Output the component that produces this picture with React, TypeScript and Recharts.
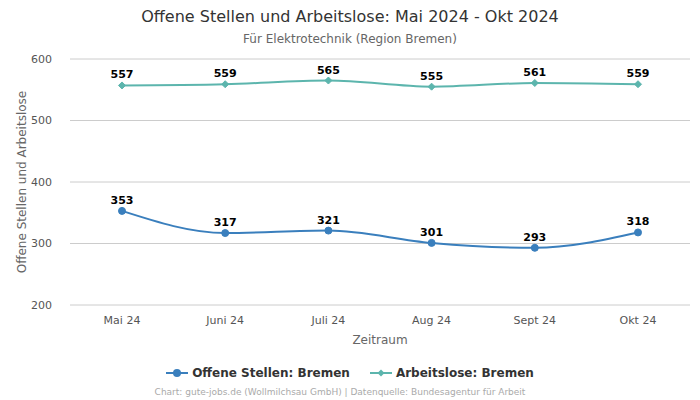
import { CartesianGrid, Label, LabelList, Line, LineChart, XAxis, YAxis } from "recharts";

const MONTHS = ["Mai 24", "Juni 24", "Juli 24", "Aug 24", "Sept 24", "Okt 24"];
const OFFENE_STELLEN = [353, 317, 321, 301, 293, 318];
const ARBEITSLOSE = [557, 559, 565, 555, 561, 559];
const Y_TICKS = [200, 300, 400, 500, 600];

const BLUE = "#3a7fbd";
const TEAL = "#5cb5ad";
const FONT = "'DejaVu Sans', sans-serif";

const data = MONTHS.map((m, i) => ({
  month: m,
  offene: OFFENE_STELLEN[i],
  arbeitslose: ARBEITSLOSE[i],
}));

function Diamond(props: any) {
  const { cx, cy } = props;
  if (cx == null || cy == null) return null;
  const r = 3.5;
  return (
    <polygon
      points={`${cx},${cy - r} ${cx + r},${cy} ${cx},${cy + r} ${cx - r},${cy}`}
      fill={TEAL}
      stroke={TEAL}
    />
  );
}

function LegendItem({ color, label, diamond }: { color: string; label: string; diamond?: boolean }) {
  return (
    <span style={{ display: "inline-flex", alignItems: "center", margin: "0 10px" }}>
      <svg width={22} height={10} style={{ marginRight: 4 }}>
        <line x1={0} y1={5} x2={22} y2={5} stroke={color} strokeWidth={2} />
        {diamond ? (
          <polygon points="11,1.5 14.5,5 11,8.5 7.5,5" fill={color} />
        ) : (
          <circle cx={11} cy={5} r={4} fill={color} />
        )}
      </svg>
      {label}
    </span>
  );
}

export default function App() {
  return (
    <div style={{ position: "absolute", left: 0, top: 0, width: 700, height: 400, fontFamily: FONT, background: "#fff" }}>
      <div style={{ position: "absolute", top: 7, width: 700, textAlign: "center", fontSize: 16, color: "#333" }}>
        Offene Stellen und Arbeitslose: Mai 2024 - Okt 2024
      </div>
      <div style={{ position: "absolute", top: 32, width: 700, textAlign: "center", fontSize: 12, color: "#666" }}>
        Für Elektrotechnik (Region Bremen)
      </div>
      <LineChart
        width={700}
        height={400}
        data={data}
        margin={{ top: 59, right: 10, bottom: 55, left: 0 }}
        style={{ position: "absolute", left: 0, top: 0 }}
      >
        <CartesianGrid vertical={false} stroke="#cccccc" />
        <XAxis
          dataKey="month"
          axisLine={false}
          tickLine={false}
          padding={{ left: 52, right: 52 }}
          tick={{ fontSize: 11, fill: "#555", fontFamily: FONT }}
          tickMargin={5}
          height={40}
        >
          <Label value="Zeitraum" position="insideBottom" offset={1} style={{ fontSize: 12, fill: "#666", fontFamily: FONT }} />
        </XAxis>
        <YAxis
          domain={[200, 600]}
          ticks={Y_TICKS}
          axisLine={false}
          tickLine={false}
          width={70}
          tick={{ fontSize: 11, fill: "#555", fontFamily: FONT }}
          tickMargin={12}
        >
          <Label
            value="Offene Stellen und Arbeitslose"
            angle={-90}
            position="insideLeft"
            offset={22}
            style={{ textAnchor: "middle", fontSize: 12, fill: "#666", fontFamily: FONT }}
          />
        </YAxis>
        <Line
          type="monotone"
          dataKey="offene"
          name="Offene Stellen: Bremen"
          stroke={BLUE}
          strokeWidth={2}
          dot={{ r: 3.5, fill: BLUE, stroke: BLUE, strokeWidth: 1 }}
          isAnimationActive={false}
        >
          <LabelList dataKey="offene" position="top" offset={7} style={{ fontSize: 11, fontWeight: "bold", fill: "#000", fontFamily: FONT }} />
        </Line>
        <Line
          type="monotone"
          dataKey="arbeitslose"
          name="Arbeitslose: Bremen"
          stroke={TEAL}
          strokeWidth={2}
          dot={<Diamond />}
          isAnimationActive={false}
        >
          <LabelList dataKey="arbeitslose" position="top" offset={7} style={{ fontSize: 11, fontWeight: "bold", fill: "#000", fontFamily: FONT }} />
        </Line>
      </LineChart>
      <div style={{ position: "absolute", top: 366, width: 700, textAlign: "center", fontSize: 12, fontWeight: "bold", color: "#333" }}>
        <LegendItem color={BLUE} label="Offene Stellen: Bremen" />
        <LegendItem color={TEAL} label="Arbeitslose: Bremen" diamond />
      </div>
      <div style={{ position: "absolute", top: 387, left: -10, width: 700, textAlign: "center", fontSize: 9, color: "#aaa" }}>
        Chart: gute-jobs.de (Wollmilchsau GmbH) | Datenquelle: Bundesagentur für Arbeit
      </div>
    </div>
  );
}
